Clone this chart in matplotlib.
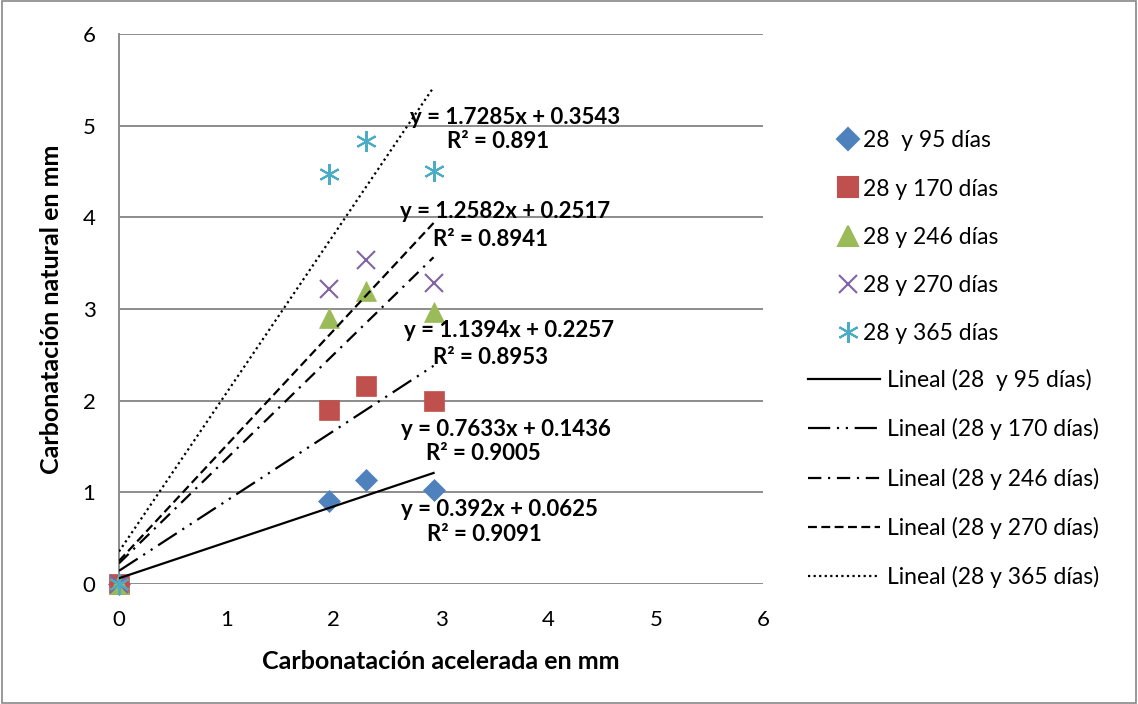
import matplotlib.pyplot as plt
from matplotlib.lines import Line2D
from matplotlib.patches import Rectangle
import numpy as np

plt.rcParams['font.family'] = ['Lato', 'DejaVu Sans']

# ── Data ──────────────────────────────────────────────────────────────────
x_acel = [0, 1.96, 2.30, 2.93]
y_95 = [0, 0.91, 1.13, 1.02]
y_170 = [0, 1.90, 2.16, 2.00]
y_246 = [0, 2.90, 3.20, 2.97]
y_270 = [0, 3.22, 3.53, 3.28]
y_365 = [0, 4.47, 4.83, 4.51]

series_names = ['28  y 95 días', '28 y 170 días', '28 y 246 días',
                '28 y 270 días', '28 y 365 días']
slopes = [0.392, 0.7633, 1.1394, 1.2582, 1.7285]
intercepts = [0.0625, 0.1436, 0.2257, 0.2517, 0.3543]
r2 = ['0.9091', '0.9005', '0.8953', '0.8941', '0.891']

# label anchor positions (data coords) for trend equations and R²
eq_pos = [(3.54, 0.81), (3.60, 1.69), (3.63, 2.76), (3.60, 4.06), (3.69, 5.09)]
r2_pos = [(3.40, 0.54), (3.39, 1.42), (3.46, 2.47), (3.46, 3.76), (3.53, 4.83)]

colors = ['#4F81BD', '#C0504D', '#9BBB59', '#8064A2', '#4BACC6']
markers = ['D', 's', '^', 'x', (6, 2, 0)]
msizes = [11, 14, 14, 13, 15]
lstyles = ['-', (0, (10, 3, 1, 3, 1, 3)), (0, (6, 3, 1, 3)),
           (0, (4, 2)), (0, (1, 1.5))]

fig = plt.figure(figsize=(11.38, 7.04), dpi=100)
fig.patches.append(Rectangle((0.002, 0.002), 0.996, 0.996, transform=fig.transFigure,
                             fill=False, edgecolor='#888888', linewidth=1.2))
ax = fig.add_axes([0.1046, 0.1705, 0.566, 0.7812])

for i, yv in enumerate([y_95, y_170, y_246, y_270, y_365]):
    filled = markers[i] not in ('x', (6, 2, 0))
    ax.plot(x_acel, yv, linestyle='none', marker=markers[i], markersize=msizes[i],
            color=colors[i], markeredgewidth=1.5 if not filled else 0.5,
            zorder=3 + i, clip_on=False)

xf = np.array([0, x_acel[-1]])
for i in range(5):
    ax.plot(xf, slopes[i] * xf + intercepts[i], color='black',
            linestyle=lstyles[i], linewidth=1.6, zorder=10)
    ax.text(*eq_pos[i], f'y = {slopes[i]}x + {intercepts[i]}', ha='center', va='center',
            fontsize=16, fontweight='bold', zorder=12)
    ax.text(*r2_pos[i], f'R² = {r2[i]}', ha='center', va='center',
            fontsize=16, fontweight='bold', zorder=12)

ax.set_xlim(0, 6)
ax.set_ylim(0, 6)
ax.set_xticks(range(7))
ax.set_yticks(range(7))
ax.yaxis.grid(True, color='#8c8c8c', linewidth=1.4)
ax.set_axisbelow(True)
for s in ['top', 'right', 'bottom']:
    ax.spines[s].set_visible(False)
ax.spines['left'].set_color('#8c8c8c')
ax.spines['left'].set_linewidth(1.4)
ax.tick_params(length=0, labelsize=16)
ax.tick_params(axis='x', pad=19)
ax.tick_params(axis='y', pad=17)
ax.set_xlabel('Carbonatación acelerada en mm', fontsize=18, fontweight='bold', labelpad=14)
ax.set_ylabel('Carbonatación natural en mm', fontsize=18, fontweight='bold', labelpad=14)

mk_handles = [Line2D([], [], linestyle='none', marker=markers[i], markersize=msizes[i],
                     color=colors[i], markeredgewidth=1.5) for i in range(5)]
fig.legend(mk_handles, series_names, loc='upper left',
           bbox_to_anchor=(0.735, 0.815), frameon=False, fontsize=16.5,
           handlelength=1.0, handletextpad=0.15, labelspacing=1.19,
           borderpad=0, borderaxespad=0)
ln_handles = [Line2D([], [], color='black', linestyle=lstyles[i], linewidth=1.6)
              for i in range(5)]
ln_names = ['Lineal (' + n + ')' for n in series_names]
fig.legend(ln_handles, ln_names, loc='upper left',
           bbox_to_anchor=(0.710, 0.476), frameon=False, fontsize=16.5,
           handlelength=3.14, handletextpad=0.3, labelspacing=1.19,
           borderpad=0, borderaxespad=0)

fig.savefig('out.png', dpi=100)
